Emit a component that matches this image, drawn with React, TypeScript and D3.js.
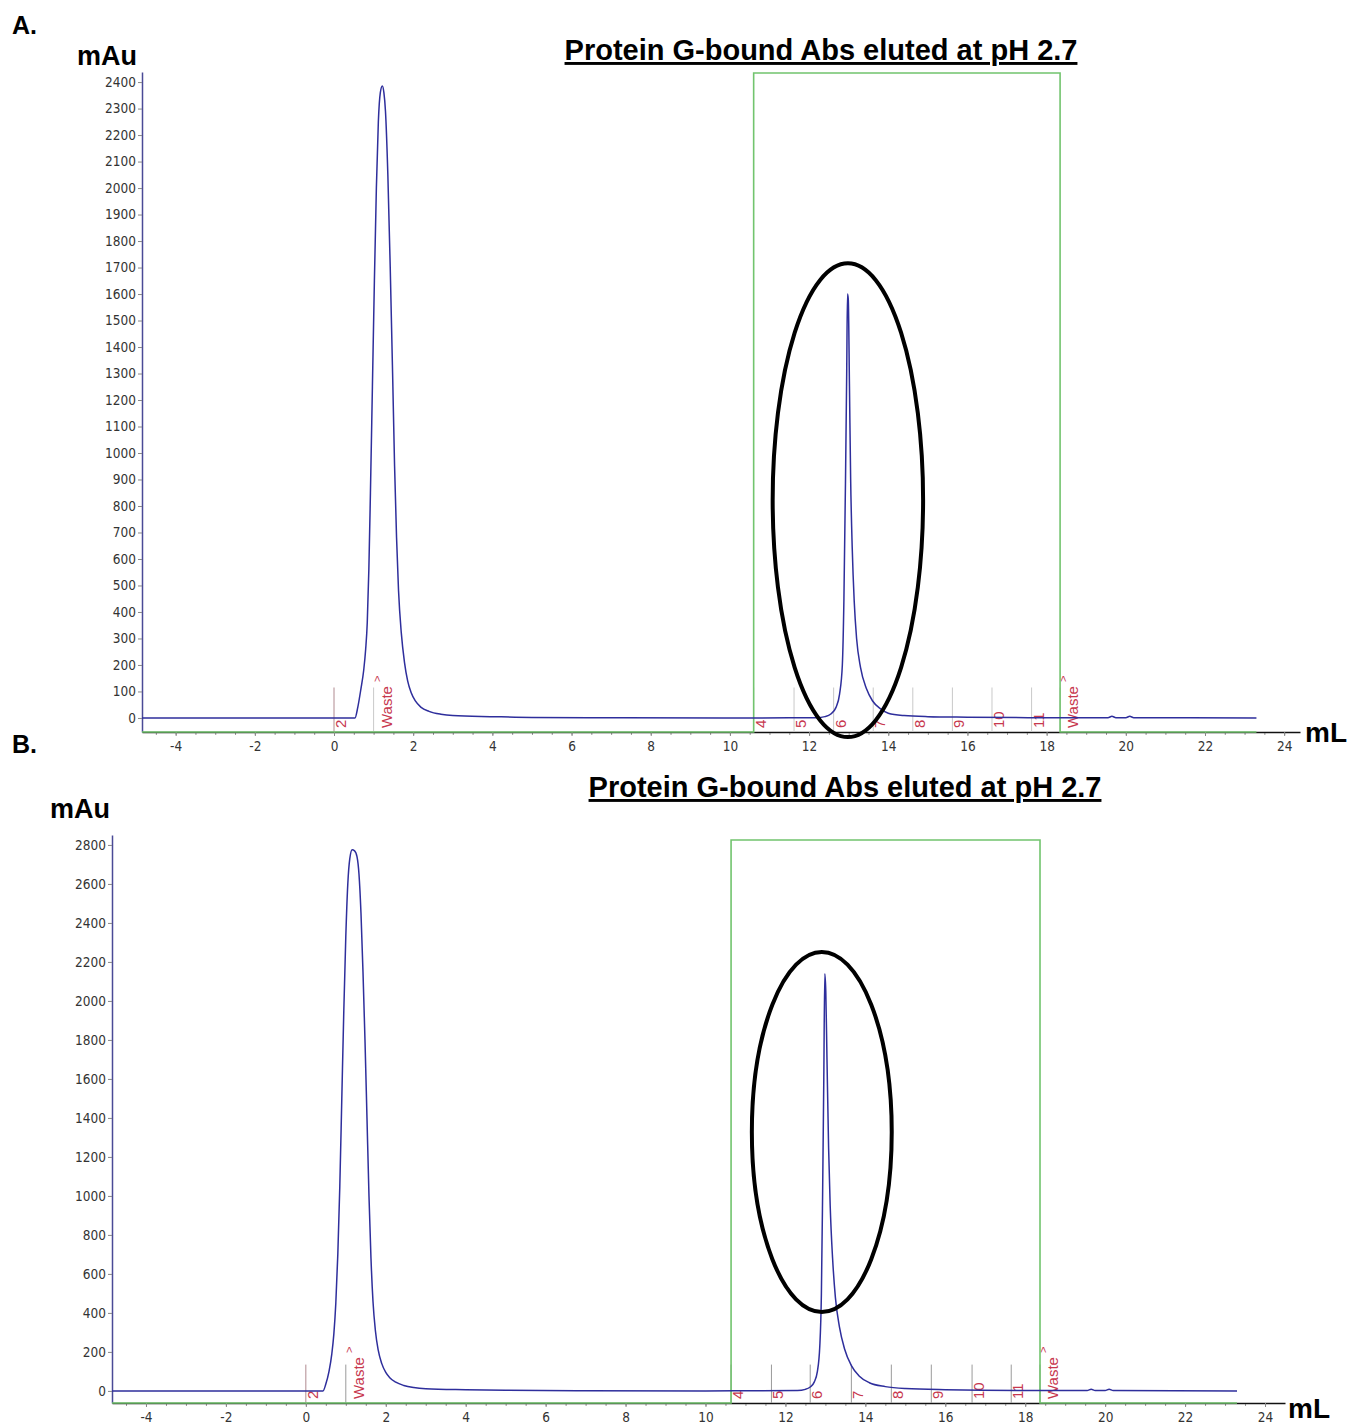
import React, { useEffect, useRef } from "react";
import * as d3 from "d3";

// ---- data ----
const titleText = "Protein G-bound Abs eluted at pH 2.7";
const mlTicks = [-4, -2, 0, 2, 4, 6, 8, 10, 12, 14, 16, 18, 20, 22, 24];
const mauTicksA = [0, 100, 200, 300, 400, 500, 600, 700, 800, 900, 1000, 1100, 1200, 1300, 1400, 1500, 1600, 1700, 1800, 1900, 2000, 2100, 2200, 2300, 2400];
const mauTicksB = [0, 200, 400, 600, 800, 1000, 1200, 1400, 1600, 1800, 2000, 2200, 2400, 2600, 2800];

// UV trace, [mL, mAu]
const curveA = [
  [-4.85, 0], [0.53, 0], [0.6, 40], [0.68, 110], [0.75, 180], [0.8, 260], [0.84, 360], [0.88, 560],
  [0.92, 850], [0.97, 1250], [1.02, 1650], [1.07, 2000], [1.12, 2250], [1.17, 2360], [1.22, 2385],
  [1.26, 2360], [1.3, 2290], [1.36, 2050], [1.42, 1700], [1.48, 1300], [1.53, 950], [1.58, 680],
  [1.63, 480], [1.7, 320], [1.78, 210], [1.86, 140], [1.95, 95], [2.05, 65], [2.2, 40], [2.4, 25],
  [2.7, 14], [3.0, 9], [4.0, 5], [5.0, 2], [7.0, 1], [10.0, 0], [12.2, 1], [12.4, 5], [12.55, 15],
  [12.68, 40], [12.77, 90], [12.84, 200], [12.88, 450], [12.92, 900], [12.95, 1300], [12.97, 1600],
  [12.99, 1580], [13.02, 1250], [13.05, 900], [13.09, 640], [13.14, 440], [13.2, 300], [13.3, 190],
  [13.45, 110], [13.6, 65], [13.8, 35], [14.0, 18], [14.4, 9], [15.0, 5], [16.0, 3], [18.0, 1],
  [19.55, 1], [19.65, 6], [19.75, 1], [20.0, 1], [20.1, 6], [20.2, 1], [23.3, 0],
];
const curveB = [
  [-4.85, 0], [0.43, 0], [0.5, 35], [0.58, 100], [0.65, 190], [0.7, 290], [0.75, 450], [0.8, 700],
  [0.85, 1050], [0.9, 1500], [0.95, 1950], [1.0, 2330], [1.05, 2600], [1.1, 2730], [1.16, 2775],
  [1.22, 2770], [1.28, 2740], [1.33, 2650], [1.38, 2450], [1.43, 2150], [1.48, 1800], [1.53, 1400],
  [1.58, 1000], [1.63, 680], [1.68, 460], [1.74, 310], [1.81, 210], [1.9, 140], [2.0, 95], [2.1, 68],
  [2.25, 45], [2.45, 28], [2.7, 17], [3.0, 11], [4.0, 6], [5.0, 3], [7.0, 1], [10.0, 0], [12.3, 2],
  [12.5, 8], [12.62, 20], [12.72, 45], [12.8, 100], [12.86, 230], [12.9, 500], [12.93, 1000],
  [12.96, 1600], [12.985, 2140], [13.01, 2050], [13.04, 1700], [13.08, 1250], [13.12, 950],
  [13.18, 680], [13.25, 480], [13.35, 330], [13.48, 215], [13.65, 130], [13.85, 75], [14.1, 42],
  [14.5, 22], [15.0, 12], [16.0, 6], [18.0, 2], [19.55, 2], [19.65, 8], [19.75, 2], [20.0, 2],
  [20.1, 8], [20.2, 2], [23.3, 0],
];

// fraction marks (mL) and their labels
const fractionLabels = ["2", "Waste", "4", "5", "6", "7", "8", "9", "10", "11", "Waste"];
const fractionMlA = [0, 1.0, 10.6, 11.62, 12.62, 13.62, 14.62, 15.62, 16.62, 17.62, 18.34];
const fractionMlB = [0, 1.0, 10.64, 11.65, 12.62, 13.65, 14.65, 15.65, 16.67, 17.65, 18.37];

// elution step (green): start mL, end mL, level mAu, trace end mL
const stepA = [10.6, 18.34, 2434, 23.3];
const stepB = [10.64, 18.37, 2825, 23.3];

// highlighted peak: centre mL, centre mAu, half width mL, half height mAu
const ringA = [12.98, 822, 1.9, 894];
const ringB = [12.91, 1328, 1.75, 923];

// ---- layout ----
const panels = [
  {
    letter: "A.", letterX: 12, letterY: 34,
    mauX: 77, mauY: 65, titleX: 821, titleY: 60,
    mlX: 1305, mlY: 742,
    left: 142, right: 1300, top: 72, bottom: 732,
    xDomain: [-4.85, 24.4], yDomain: [-53, 2438],
    yTicks: mauTicksA, curve: curveA, fractions: fractionMlA, fracTop: 115,
    step: stepA, ring: ringA, fracColor: "#c9c9c9",
  },
  {
    letter: "B.", letterX: 12, letterY: 753,
    mauX: 50, mauY: 818, titleX: 845, titleY: 797,
    mlX: 1288, mlY: 1418,
    left: 112, right: 1285, top: 835, bottom: 1403,
    xDomain: [-4.85, 24.5], yDomain: [-62, 2851],
    yTicks: mauTicksB, curve: curveB, fractions: fractionMlB, fracTop: 135,
    step: stepB, ring: ringB, fracColor: "#9a9a9a",
  },
];

const boldFont = "'Liberation Sans', Arial, sans-serif";
const tickFont = "'Liberation Sans Narrow', 'Arial Narrow', 'DejaVu Sans Condensed', sans-serif";

function drawPanel(svg, p) {
  const g = svg.append("g");
  const x = d3.scaleLinear().domain(p.xDomain).range([p.left, p.right]);
  const y = d3.scaleLinear().domain(p.yDomain).range([p.bottom, p.top]);
  const yMin = p.yDomain[0];
  const plain = (d) => String(d);

  // y axis
  const yAxis = g.append("g")
    .attr("transform", `translate(${p.left},0)`)
    .call(d3.axisLeft(y).tickValues(p.yTicks).tickFormat(plain).tickSize(4).tickSizeOuter(0).tickPadding(2));
  yAxis.select(".domain").attr("stroke", "#4a4a96").attr("stroke-width", 1.5);
  yAxis.selectAll(".tick line").attr("stroke", "#888");
  yAxis.selectAll(".tick text")
    .attr("font-family", tickFont).attr("font-size", 13.5).attr("fill", "#333");

  // x axis: minor then major ticks
  const minor = d3.range(-4.5, 24.01, 0.5);
  g.append("g")
    .attr("transform", `translate(0,${p.bottom})`)
    .call(d3.axisBottom(x).tickValues(minor).tickFormat(() => "").tickSize(3).tickSizeOuter(0))
    .call((a) => a.select(".domain").remove())
    .selectAll(".tick line").attr("stroke", "#999");
  const xAxis = g.append("g")
    .attr("transform", `translate(0,${p.bottom})`)
    .call(d3.axisBottom(x).tickValues(mlTicks).tickFormat(plain).tickSize(4).tickSizeOuter(0).tickPadding(5));
  xAxis.select(".domain").attr("stroke", "#111").attr("stroke-width", 1.5);
  xAxis.selectAll(".tick line").attr("stroke", "#888");
  xAxis.selectAll(".tick text")
    .attr("font-family", tickFont).attr("font-size", 13.5).attr("fill", "#333");

  // fraction marks
  const fr = g.append("g");
  p.fractions.forEach((ml, i) => {
    const fx = x(ml);
    fr.append("line")
      .attr("x1", fx).attr("x2", fx)
      .attr("y1", y(yMin)).attr("y2", y(p.fracTop))
      .attr("stroke", i === 0 ? "#b08a90" : p.fracColor).attr("stroke-width", 1);
    const label = fractionLabels[i];
    const isWaste = label === "Waste";
    const tx = fx + (isWaste ? 14 : 8);
    const ty = y(yMin) - 4;
    fr.append("text")
      .attr("transform", `translate(${tx},${ty}) rotate(-90)`)
      .attr("dominant-baseline", "middle")
      .attr("font-family", boldFont).attr("font-size", 15)
      .attr("fill", "#c7384e")
      .text(label);
    if (isWaste) {
      fr.append("text")
        .attr("transform", `translate(${fx + 4},${ty - 46}) rotate(-90)`)
        .attr("dominant-baseline", "middle")
        .attr("font-family", boldFont).attr("font-size", 11)
        .attr("fill", "#c7384e")
        .text(">");
    }
  });

  // green elution step
  const [s0, s1, lvl, sEnd] = p.step;
  const stepPts = [[p.xDomain[0], yMin], [s0, yMin], [s0, lvl], [s1, lvl], [s1, yMin], [sEnd, yMin]];
  g.append("path")
    .attr("d", d3.line().x((d) => x(d[0])).y((d) => y(d[1]))(stepPts))
    .attr("fill", "none").attr("stroke", "#72c46e").attr("stroke-width", 1.6);

  // UV trace
  g.append("path")
    .attr("d", d3.line().x((d) => x(d[0])).y((d) => y(d[1])).curve(d3.curveMonotoneX)(p.curve))
    .attr("fill", "none").attr("stroke", "#2e2e9c").attr("stroke-width", 1.5);

  // highlight ellipse
  const [cx, cy, hw, hh] = p.ring;
  g.append("ellipse")
    .attr("cx", x(cx)).attr("cy", y(cy))
    .attr("rx", x(cx + hw) - x(cx)).attr("ry", y(cy - hh) - y(cy))
    .attr("fill", "none").attr("stroke", "#000").attr("stroke-width", 4);

  // texts
  g.append("text").attr("x", p.letterX).attr("y", p.letterY)
    .attr("font-family", boldFont).attr("font-weight", "bold").attr("font-size", 25)
    .text(p.letter);
  g.append("text").attr("x", p.mauX).attr("y", p.mauY)
    .attr("font-family", boldFont).attr("font-weight", "bold").attr("font-size", 27)
    .text("mAu");
  g.append("text").attr("x", p.mlX).attr("y", p.mlY)
    .attr("font-family", boldFont).attr("font-weight", "bold").attr("font-size", 28)
    .text("mL");
  g.append("text").attr("x", p.titleX).attr("y", p.titleY)
    .attr("text-anchor", "middle")
    .attr("font-family", boldFont).attr("font-weight", "bold").attr("font-size", 29)
    .attr("text-decoration", "underline")
    .text(titleText);
}

export default function App() {
  const ref = useRef(null);

  useEffect(() => {
    const svg = d3.select(ref.current);
    svg.selectAll("*").remove();
    panels.forEach((p) => drawPanel(svg, p));
  }, []);

  return (
    <svg
      ref={ref}
      width={1351}
      height={1427}
      style={{ position: "absolute", left: 0, top: 0, background: "#fff" }}
    />
  );
}
